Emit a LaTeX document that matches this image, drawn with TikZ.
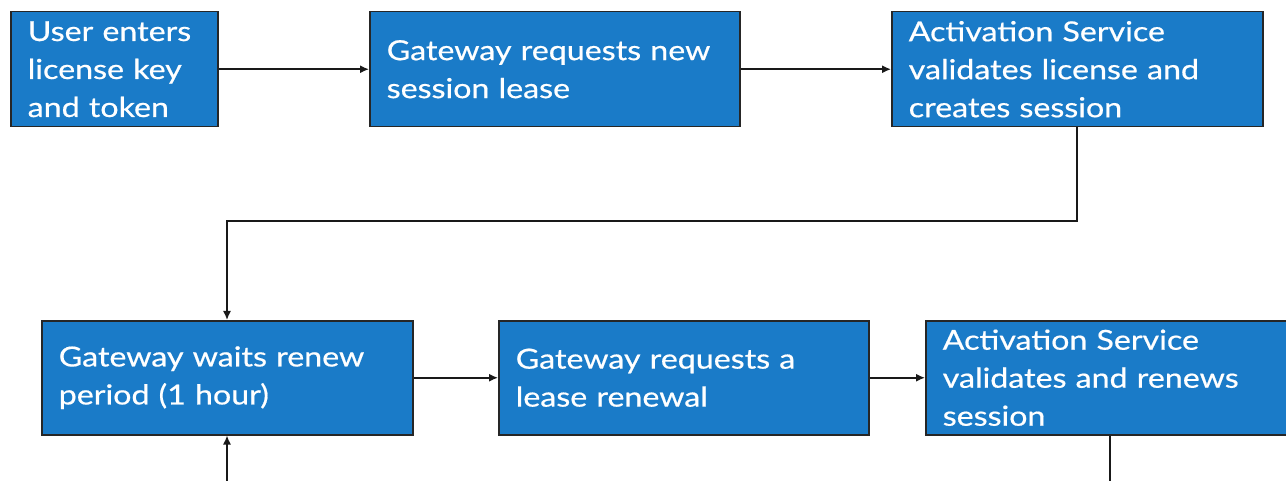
\documentclass[tikz,border=0pt]{standalone}
\usepackage{fontspec}
\setmainfont{Lato}[FakeStretch=1.17, FakeBold=0.6]
\usetikzlibrary{arrows.meta}
\definecolor{boxblue}{HTML}{1A7BC8}
\tikzset{
  stepbox/.style={draw=black!85, line width=1.5pt, fill=boxblue, text=white,
    anchor=north west, inner xsep=17pt, inner ysep=0pt, align=left,
    font=\fontsize{27.5}{38}\selectfont, minimum height=#1},
  conn/.style={draw=black!90, line width=1.5pt, -{Latex[length=9pt,width=8pt]}},
  plain/.style={draw=black!90, line width=1.5pt}
}
\begin{document}
\begin{tikzpicture}[x=1pt,y=-1pt]
\useasboundingbox (0,0) rectangle (1286,481);
\clip (0,0) rectangle (1286,481);
\node[stepbox=115pt, text width=173pt] (b1) at (10,11) {User enters\\license key\\and token};
\node[stepbox=115pt, text width=336pt] (b2) at (369,11) {Gateway requests new\\session lease};
\node[stepbox=115pt, text width=337pt] (b3) at (891,11) {Activation Service\\validates license and\\creates session};
\node[stepbox=114pt, text width=337pt] (b4) at (41,320) {Gateway waits renew\\period (1 hour)};
\node[stepbox=114pt, text width=336pt] (b5) at (498,320) {Gateway requests a\\lease renewal};
\node[stepbox=114pt, text width=337pt] (b6) at (925,320) {Activation Service\\validates and renews\\session};
\coordinate (bend1) at (1077,221);
\coordinate (bend2) at (227,221);
\coordinate (loopout) at (1110,490);
\coordinate (loopin) at (227,490);
\draw[conn] (b1) -- (b2);
\draw[conn] (b2) -- (b3);
\draw[conn] (b3.south -| bend1) -- (bend1) -- (bend2) -- (b4.north -| bend2);
\draw[conn] (b4) -- (b5);
\draw[conn] (b5.east) -- (b6.west |- b5.east);
\draw[plain] (b6.south -| loopout) -- (loopout);
\draw[conn] (loopin) -- (b4.south -| loopin);
\end{tikzpicture}
\end{document}
